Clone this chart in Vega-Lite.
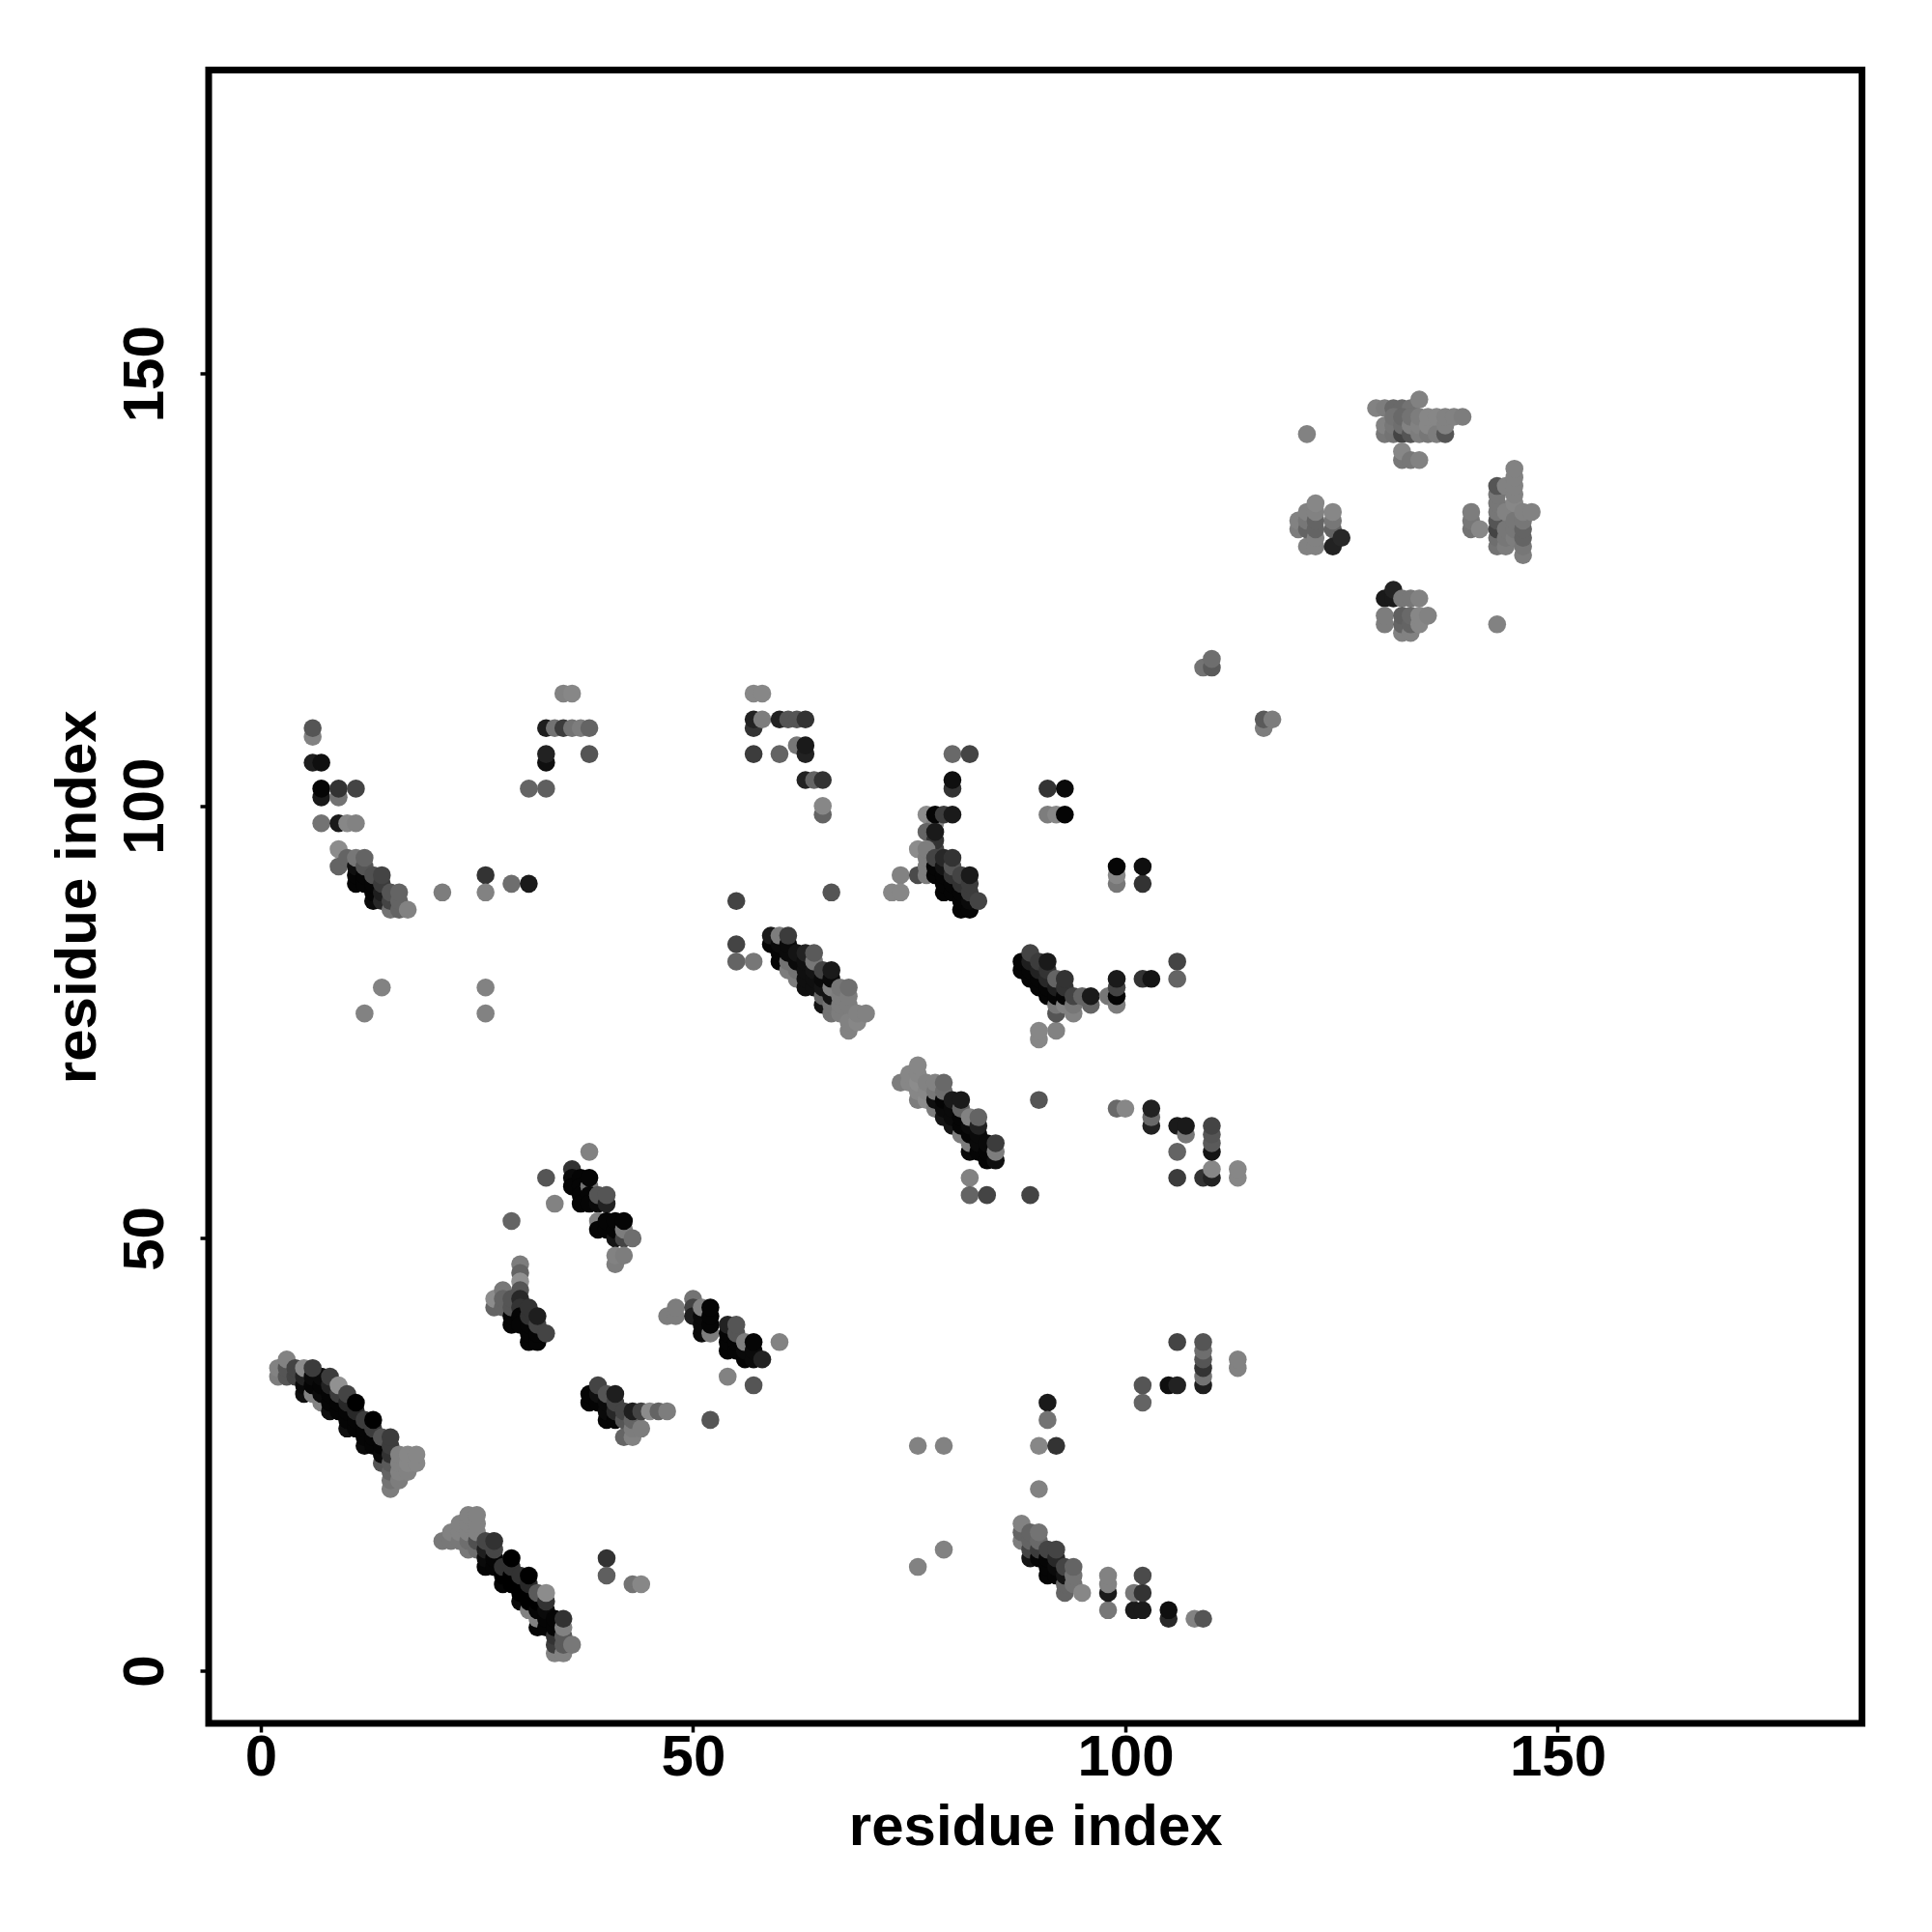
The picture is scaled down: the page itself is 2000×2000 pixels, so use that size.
{"$schema":"https://vega.github.io/schema/vega-lite/v6.json","autosize":{"type":"none"},"padding":{"left":216,"top":72.5,"right":72,"bottom":216},"width":1711.5,"height":1711.5,"background":"white","view":{"stroke":"#000000","strokeWidth":7},
"data":{"values":[
{"x":2,"y":34,"g":125},{"x":2,"y":35,"g":130},{"x":3,"y":34,"g":85},{"x":3,"y":35,"g":85},{"x":3,"y":36,"g":130},{"x":4,"y":34,"g":68},{"x":4,"y":35,"g":68},{"x":5,"y":32,"g":15},{"x":5,"y":33,"g":10},{"x":5,"y":34,"g":34},{"x":5,"y":35,"g":140},{"x":6,"y":32,"g":130},{"x":6,"y":33,"g":5},{"x":6,"y":34,"g":10},{"x":7,"y":31,"g":130},{"x":7,"y":32,"g":10},{"x":7,"y":33,"g":5},{"x":7,"y":34,"g":10},{"x":6,"y":35,"g":60},{"x":8,"y":30,"g":15},{"x":8,"y":31,"g":5},{"x":8,"y":32,"g":5},{"x":8,"y":33,"g":34},{"x":8,"y":34,"g":60},{"x":9,"y":30,"g":5},{"x":9,"y":31,"g":5},{"x":9,"y":32,"g":60},{"x":9,"y":33,"g":145},{"x":10,"y":28,"g":15},{"x":10,"y":29,"g":5},{"x":10,"y":30,"g":5},{"x":10,"y":31,"g":40},{"x":10,"y":32,"g":68},{"x":11,"y":28,"g":5},{"x":11,"y":29,"g":5},{"x":11,"y":30,"g":40},{"x":11,"y":31,"g":0},{"x":12,"y":26,"g":10},{"x":12,"y":27,"g":5},{"x":12,"y":28,"g":5},{"x":12,"y":29,"g":60},{"x":13,"y":26,"g":5},{"x":13,"y":27,"g":5},{"x":13,"y":28,"g":60},{"x":13,"y":29,"g":0},{"x":14,"y":24,"g":85},{"x":14,"y":25,"g":10},{"x":14,"y":26,"g":5},{"x":14,"y":27,"g":85},{"x":15,"y":21,"g":125},{"x":15,"y":22,"g":115},{"x":15,"y":23,"g":100},{"x":15,"y":24,"g":90},{"x":15,"y":25,"g":50},{"x":15,"y":26,"g":60},{"x":15,"y":27,"g":60},{"x":16,"y":22,"g":125},{"x":16,"y":23,"g":130},{"x":16,"y":24,"g":130},{"x":16,"y":25,"g":130},{"x":17,"y":23,"g":130},{"x":17,"y":24,"g":135},{"x":17,"y":25,"g":135},{"x":18,"y":24,"g":135},{"x":18,"y":25,"g":135},
{"x":21,"y":15,"g":120},{"x":22,"y":15,"g":120},{"x":22,"y":16,"g":130},{"x":23,"y":15,"g":120},{"x":23,"y":16,"g":130},{"x":23,"y":17,"g":130},{"x":24,"y":14,"g":120},{"x":24,"y":15,"g":110},{"x":24,"y":16,"g":130},{"x":24,"y":17,"g":130},{"x":24,"y":18,"g":130},{"x":25,"y":14,"g":110},{"x":25,"y":15,"g":80},{"x":25,"y":16,"g":130},{"x":25,"y":17,"g":130},{"x":25,"y":18,"g":130},{"x":26,"y":12,"g":5},{"x":26,"y":13,"g":10},{"x":26,"y":14,"g":30},{"x":26,"y":15,"g":70},{"x":27,"y":12,"g":5},{"x":27,"y":13,"g":5},{"x":27,"y":14,"g":70},{"x":27,"y":15,"g":50},{"x":28,"y":10,"g":5},{"x":28,"y":11,"g":0},{"x":28,"y":12,"g":50},{"x":29,"y":10,"g":0},{"x":29,"y":11,"g":0},{"x":29,"y":12,"g":50},{"x":29,"y":13,"g":0},{"x":30,"y":8,"g":10},{"x":30,"y":9,"g":0},{"x":30,"y":10,"g":0},{"x":30,"y":11,"g":50},{"x":31,"y":7,"g":130},{"x":31,"y":8,"g":0},{"x":31,"y":9,"g":0},{"x":31,"y":10,"g":40},{"x":31,"y":11,"g":0},{"x":32,"y":5,"g":5},{"x":32,"y":6,"g":130},{"x":32,"y":7,"g":5},{"x":32,"y":8,"g":0},{"x":32,"y":9,"g":90},{"x":33,"y":5,"g":5},{"x":33,"y":6,"g":5},{"x":33,"y":7,"g":10},{"x":33,"y":8,"g":50},{"x":33,"y":9,"g":140},{"x":34,"y":2,"g":130},{"x":34,"y":3,"g":60},{"x":34,"y":4,"g":50},{"x":34,"y":5,"g":5},{"x":34,"y":6,"g":5},{"x":35,"y":2,"g":130},{"x":35,"y":3,"g":90},{"x":35,"y":4,"g":90},{"x":35,"y":5,"g":130},{"x":35,"y":6,"g":50},{"x":36,"y":3,"g":120},
{"x":40,"y":13,"g":51},{"x":40,"y":11,"g":95},{"x":43,"y":10,"g":115},{"x":44,"y":10,"g":135},
{"x":38,"y":60,"g":130},{"x":33,"y":57,"g":85},{"x":34,"y":54,"g":130},{"x":29,"y":52,"g":100},
{"x":36,"y":58,"g":51},{"x":36,"y":57,"g":10},{"x":36,"y":56,"g":5},{"x":37,"y":57,"g":5},{"x":37,"y":56,"g":5},{"x":37,"y":55,"g":5},{"x":37,"y":54,"g":5},{"x":38,"y":56,"g":115},{"x":38,"y":55,"g":5},{"x":38,"y":54,"g":5},{"x":38,"y":57,"g":5},{"x":39,"y":54,"g":10},{"x":39,"y":55,"g":85},{"x":40,"y":54,"g":34},{"x":40,"y":55,"g":85},{"x":39,"y":52,"g":130},{"x":39,"y":51,"g":5},{"x":40,"y":51,"g":5},{"x":40,"y":52,"g":5},{"x":41,"y":50,"g":20},{"x":41,"y":51,"g":5},{"x":41,"y":52,"g":5},{"x":42,"y":50,"g":68},{"x":42,"y":51,"g":125},{"x":42,"y":52,"g":5},{"x":43,"y":50,"g":110},{"x":41,"y":47,"g":125},{"x":41,"y":48,"g":130},{"x":42,"y":48,"g":125},
{"x":27,"y":42,"g":100},{"x":27,"y":43,"g":140},{"x":28,"y":44,"g":120},{"x":28,"y":42,"g":100},{"x":28,"y":43,"g":100},{"x":29,"y":40,"g":5},{"x":29,"y":41,"g":5},{"x":29,"y":42,"g":85},{"x":29,"y":43,"g":85},{"x":30,"y":47,"g":125},{"x":30,"y":46,"g":100},{"x":30,"y":45,"g":145},{"x":30,"y":44,"g":85},{"x":30,"y":43,"g":40},{"x":30,"y":42,"g":51},{"x":30,"y":41,"g":5},{"x":30,"y":40,"g":5},{"x":31,"y":38,"g":5},{"x":31,"y":39,"g":5},{"x":31,"y":40,"g":5},{"x":31,"y":41,"g":51},{"x":31,"y":42,"g":51},{"x":32,"y":38,"g":5},{"x":32,"y":39,"g":5},{"x":32,"y":40,"g":68},{"x":32,"y":41,"g":30},{"x":33,"y":39,"g":68},
{"x":47,"y":41,"g":125},{"x":48,"y":41,"g":125},{"x":48,"y":42,"g":125},{"x":50,"y":43,"g":115},{"x":50,"y":42,"g":68},{"x":50,"y":41,"g":30},{"x":51,"y":39,"g":10},{"x":51,"y":40,"g":10},{"x":51,"y":41,"g":10},{"x":51,"y":42,"g":130},{"x":52,"y":39,"g":125},{"x":52,"y":40,"g":5},{"x":52,"y":41,"g":5},{"x":52,"y":42,"g":5},{"x":54,"y":37,"g":5},{"x":54,"y":38,"g":5},{"x":54,"y":39,"g":5},{"x":54,"y":40,"g":34},{"x":55,"y":37,"g":5},{"x":55,"y":38,"g":5},{"x":55,"y":39,"g":85},{"x":55,"y":40,"g":85},{"x":56,"y":36,"g":5},{"x":56,"y":37,"g":10},{"x":56,"y":38,"g":125},{"x":57,"y":36,"g":10},{"x":57,"y":37,"g":10},{"x":57,"y":38,"g":5},{"x":58,"y":36,"g":34},{"x":60,"y":38,"g":130},{"x":54,"y":34,"g":130},{"x":57,"y":33,"g":85},{"x":52,"y":29,"g":85},
{"x":38,"y":31,"g":5},{"x":38,"y":32,"g":5},{"x":39,"y":31,"g":5},{"x":39,"y":32,"g":15},{"x":39,"y":33,"g":68},{"x":40,"y":29,"g":5},{"x":40,"y":30,"g":10},{"x":40,"y":31,"g":10},{"x":40,"y":32,"g":85},{"x":41,"y":29,"g":5},{"x":41,"y":30,"g":40},{"x":41,"y":31,"g":68},{"x":41,"y":32,"g":30},{"x":42,"y":27,"g":100},{"x":42,"y":29,"g":85},{"x":42,"y":30,"g":68},{"x":43,"y":27,"g":130},{"x":43,"y":28,"g":125},{"x":43,"y":29,"g":100},{"x":43,"y":30,"g":30},{"x":44,"y":28,"g":125},{"x":44,"y":30,"g":68},{"x":45,"y":30,"g":140},{"x":46,"y":30,"g":100},{"x":47,"y":30,"g":125},
{"x":6,"y":108,"g":130},{"x":6,"y":109,"g":85},{"x":6,"y":105,"g":30},{"x":7,"y":105,"g":15},{"x":7,"y":101,"g":25},{"x":7,"y":102,"g":5},{"x":9,"y":101,"g":115},{"x":9,"y":102,"g":51},{"x":11,"y":102,"g":68},{"x":7,"y":98,"g":115},{"x":9,"y":98,"g":26},{"x":10,"y":98,"g":135},{"x":11,"y":98,"g":130},{"x":9,"y":95,"g":140},{"x":9,"y":93,"g":100},{"x":10,"y":94,"g":100},{"x":11,"y":91,"g":5},{"x":11,"y":92,"g":5},{"x":11,"y":93,"g":15},{"x":11,"y":94,"g":119},{"x":12,"y":91,"g":5},{"x":12,"y":92,"g":5},{"x":12,"y":93,"g":85},{"x":12,"y":94,"g":100},{"x":13,"y":89,"g":10},{"x":13,"y":90,"g":5},{"x":13,"y":91,"g":5},{"x":13,"y":92,"g":80},{"x":14,"y":89,"g":40},{"x":14,"y":90,"g":30},{"x":14,"y":91,"g":60},{"x":14,"y":92,"g":68},{"x":15,"y":88,"g":115},{"x":15,"y":89,"g":68},{"x":15,"y":90,"g":85},{"x":16,"y":88,"g":100},{"x":16,"y":89,"g":100},{"x":16,"y":90,"g":100},{"x":17,"y":88,"g":130},{"x":21,"y":90,"g":125},{"x":26,"y":92,"g":51},{"x":26,"y":90,"g":130},{"x":29,"y":91,"g":110},{"x":31,"y":91,"g":26},{"x":14,"y":79,"g":130},{"x":12,"y":76,"g":130},{"x":26,"y":79,"g":130},{"x":26,"y":76,"g":130},
{"x":33,"y":109,"g":30},{"x":34,"y":109,"g":115},{"x":35,"y":109,"g":60},{"x":36,"y":109,"g":115},{"x":37,"y":109,"g":125},{"x":38,"y":109,"g":100},{"x":33,"y":105,"g":15},{"x":33,"y":106,"g":34},{"x":38,"y":106,"g":85},{"x":31,"y":102,"g":100},{"x":33,"y":102,"g":95},{"x":35,"y":113,"g":130},{"x":36,"y":113,"g":135},
{"x":57,"y":113,"g":135},{"x":58,"y":113,"g":135},{"x":57,"y":109,"g":51},{"x":57,"y":110,"g":34},{"x":58,"y":110,"g":125},{"x":60,"y":110,"g":34},{"x":61,"y":110,"g":85},{"x":62,"y":110,"g":85},{"x":63,"y":110,"g":51},{"x":57,"y":106,"g":60},{"x":60,"y":106,"g":100},{"x":62,"y":107,"g":119},{"x":63,"y":106,"g":34},{"x":63,"y":107,"g":26},{"x":63,"y":103,"g":34},{"x":64,"y":103,"g":100},{"x":65,"y":103,"g":51},{"x":65,"y":99,"g":100},{"x":65,"y":100,"g":135},{"x":66,"y":90,"g":85},{"x":55,"y":89,"g":68},{"x":55,"y":84,"g":68},{"x":55,"y":82,"g":100},{"x":57,"y":82,"g":119},
{"x":59,"y":84,"g":5},{"x":59,"y":85,"g":26},{"x":60,"y":82,"g":5},{"x":60,"y":83,"g":5},{"x":60,"y":84,"g":10},{"x":60,"y":85,"g":125},{"x":61,"y":81,"g":125},{"x":61,"y":82,"g":115},{"x":61,"y":83,"g":10},{"x":61,"y":84,"g":10},{"x":61,"y":85,"g":60},{"x":62,"y":80,"g":125},{"x":62,"y":81,"g":115},{"x":62,"y":82,"g":10},{"x":62,"y":83,"g":20},{"x":63,"y":79,"g":15},{"x":63,"y":80,"g":15},{"x":63,"y":81,"g":15},{"x":63,"y":82,"g":15},{"x":63,"y":83,"g":34},{"x":64,"y":79,"g":15},{"x":64,"y":80,"g":15},{"x":64,"y":81,"g":20},{"x":64,"y":82,"g":119},{"x":64,"y":83,"g":90},{"x":65,"y":77,"g":20},{"x":65,"y":78,"g":100},{"x":65,"y":79,"g":20},{"x":65,"y":80,"g":10},{"x":65,"y":81,"g":68},{"x":66,"y":76,"g":115},{"x":66,"y":77,"g":115},{"x":66,"y":78,"g":20},{"x":66,"y":79,"g":130},{"x":66,"y":80,"g":10},{"x":66,"y":81,"g":26},{"x":67,"y":76,"g":125},{"x":67,"y":77,"g":125},{"x":67,"y":78,"g":125},{"x":67,"y":79,"g":119},{"x":68,"y":74,"g":130},{"x":68,"y":75,"g":130},{"x":68,"y":77,"g":125},{"x":68,"y":78,"g":125},{"x":68,"y":79,"g":110},{"x":69,"y":75,"g":135},{"x":69,"y":76,"g":130},{"x":70,"y":76,"g":130},
{"x":80,"y":106,"g":105},{"x":82,"y":106,"g":68},{"x":80,"y":102,"g":51},{"x":80,"y":103,"g":15},{"x":77,"y":99,"g":140},{"x":78,"y":98,"g":130},{"x":78,"y":99,"g":5},{"x":79,"y":99,"g":60},{"x":80,"y":99,"g":26},{"x":77,"y":97,"g":100},{"x":78,"y":95,"g":68},{"x":78,"y":96,"g":51},{"x":78,"y":97,"g":26},{"x":74,"y":92,"g":130},{"x":73,"y":90,"g":135},{"x":74,"y":90,"g":135},{"x":76,"y":95,"g":140},{"x":76,"y":92,"g":75},{"x":77,"y":92,"g":125},{"x":77,"y":93,"g":125},{"x":77,"y":94,"g":125},{"x":77,"y":95,"g":125},{"x":78,"y":92,"g":5},{"x":78,"y":93,"g":5},{"x":78,"y":94,"g":68},{"x":79,"y":90,"g":5},{"x":79,"y":91,"g":5},{"x":79,"y":92,"g":5},{"x":79,"y":93,"g":20},{"x":79,"y":94,"g":40},{"x":80,"y":90,"g":5},{"x":80,"y":91,"g":5},{"x":80,"y":92,"g":51},{"x":80,"y":93,"g":85},{"x":80,"y":94,"g":51},{"x":81,"y":88,"g":5},{"x":81,"y":89,"g":5},{"x":81,"y":90,"g":5},{"x":81,"y":91,"g":51},{"x":81,"y":92,"g":68},{"x":82,"y":88,"g":5},{"x":82,"y":89,"g":10},{"x":82,"y":90,"g":60},{"x":82,"y":91,"g":60},{"x":82,"y":92,"g":26},{"x":83,"y":89,"g":68},
{"x":91,"y":102,"g":51},{"x":93,"y":102,"g":10},{"x":91,"y":99,"g":125},{"x":92,"y":99,"g":135},{"x":93,"y":99,"g":5},{"x":99,"y":91,"g":119},{"x":99,"y":92,"g":135},{"x":99,"y":93,"g":5},{"x":102,"y":91,"g":51},{"x":102,"y":93,"g":15},
{"x":88,"y":81,"g":5},{"x":88,"y":82,"g":5},{"x":89,"y":80,"g":5},{"x":89,"y":81,"g":5},{"x":89,"y":82,"g":30},{"x":89,"y":83,"g":68},{"x":90,"y":79,"g":5},{"x":90,"y":80,"g":5},{"x":90,"y":81,"g":34},{"x":90,"y":82,"g":60},{"x":91,"y":78,"g":5},{"x":91,"y":79,"g":5},{"x":91,"y":80,"g":40},{"x":91,"y":81,"g":51},{"x":91,"y":82,"g":26},{"x":92,"y":74,"g":130},{"x":92,"y":76,"g":85},{"x":92,"y":77,"g":119},{"x":92,"y":78,"g":5},{"x":92,"y":79,"g":30},{"x":92,"y":80,"g":100},{"x":93,"y":77,"g":130},{"x":93,"y":78,"g":5},{"x":93,"y":79,"g":51},{"x":93,"y":80,"g":51},{"x":94,"y":76,"g":130},{"x":94,"y":77,"g":119},{"x":94,"y":78,"g":68},{"x":95,"y":78,"g":100},{"x":96,"y":77,"g":100},{"x":96,"y":78,"g":26},{"x":90,"y":73,"g":135},{"x":90,"y":74,"g":135},
{"x":98,"y":78,"g":119},{"x":99,"y":77,"g":125},{"x":99,"y":78,"g":5},{"x":99,"y":79,"g":68},{"x":99,"y":80,"g":26},{"x":102,"y":80,"g":51},{"x":103,"y":80,"g":20},{"x":106,"y":82,"g":68},{"x":106,"y":80,"g":100},
{"x":74,"y":68,"g":125},{"x":75,"y":68,"g":135},{"x":75,"y":69,"g":135},{"x":76,"y":66,"g":125},{"x":76,"y":67,"g":135},{"x":76,"y":68,"g":140},{"x":76,"y":69,"g":135},{"x":76,"y":70,"g":135},{"x":77,"y":66,"g":140},{"x":77,"y":67,"g":135},{"x":77,"y":68,"g":130},{"x":78,"y":65,"g":125},{"x":78,"y":66,"g":15},{"x":78,"y":67,"g":120},{"x":78,"y":68,"g":130},{"x":79,"y":64,"g":20},{"x":79,"y":65,"g":10},{"x":79,"y":66,"g":5},{"x":79,"y":67,"g":110},{"x":79,"y":68,"g":105},{"x":80,"y":63,"g":20},{"x":80,"y":64,"g":10},{"x":80,"y":65,"g":10},{"x":80,"y":66,"g":26},{"x":81,"y":62,"g":125},{"x":81,"y":63,"g":5},{"x":81,"y":64,"g":5},{"x":81,"y":65,"g":100},{"x":81,"y":66,"g":26},{"x":82,"y":60,"g":10},{"x":82,"y":61,"g":125},{"x":82,"y":62,"g":5},{"x":82,"y":63,"g":10},{"x":82,"y":64,"g":130},{"x":83,"y":60,"g":5},{"x":83,"y":61,"g":10},{"x":83,"y":62,"g":10},{"x":83,"y":63,"g":34},{"x":83,"y":64,"g":100},{"x":84,"y":59,"g":5},{"x":84,"y":60,"g":5},{"x":84,"y":61,"g":10},{"x":85,"y":59,"g":15},{"x":85,"y":60,"g":125},{"x":85,"y":61,"g":60},
{"x":82,"y":57,"g":130},{"x":82,"y":55,"g":100},{"x":84,"y":55,"g":68},{"x":89,"y":55,"g":68},{"x":90,"y":66,"g":85},
{"x":99,"y":65,"g":105},{"x":100,"y":65,"g":135},{"x":103,"y":63,"g":34},{"x":103,"y":64,"g":105},{"x":103,"y":65,"g":34},{"x":106,"y":63,"g":26},{"x":107,"y":62,"g":119},{"x":107,"y":63,"g":26},{"x":106,"y":60,"g":100},{"x":106,"y":57,"g":60},{"x":109,"y":57,"g":51},{"x":110,"y":57,"g":34},{"x":110,"y":58,"g":135},{"x":110,"y":60,"g":20},{"x":110,"y":61,"g":90},{"x":110,"y":62,"g":85},{"x":110,"y":63,"g":68},{"x":113,"y":57,"g":135},{"x":113,"y":58,"g":135},
{"x":109,"y":116,"g":115},{"x":110,"y":116,"g":90},{"x":110,"y":117,"g":110},{"x":116,"y":109,"g":125},{"x":116,"y":110,"g":90},{"x":117,"y":110,"g":125},
{"x":121,"y":143,"g":130},{"x":129,"y":146,"g":130},{"x":130,"y":146,"g":125},{"x":131,"y":146,"g":105},{"x":132,"y":146,"g":105},{"x":133,"y":146,"g":115},{"x":130,"y":143,"g":119},{"x":130,"y":144,"g":130},{"x":131,"y":143,"g":115},{"x":131,"y":144,"g":119},{"x":131,"y":145,"g":115},{"x":132,"y":143,"g":68},{"x":132,"y":144,"g":110},{"x":132,"y":145,"g":105},{"x":133,"y":143,"g":85},{"x":133,"y":144,"g":130},{"x":133,"y":145,"g":115},{"x":134,"y":147,"g":130},{"x":134,"y":143,"g":125},{"x":134,"y":144,"g":130},{"x":134,"y":145,"g":125},{"x":135,"y":143,"g":119},{"x":135,"y":144,"g":135},{"x":135,"y":145,"g":135},{"x":136,"y":143,"g":125},{"x":136,"y":145,"g":135},{"x":137,"y":143,"g":85},{"x":137,"y":144,"g":130},{"x":137,"y":145,"g":130},{"x":138,"y":145,"g":130},{"x":139,"y":145,"g":125},{"x":132,"y":140,"g":119},{"x":132,"y":141,"g":135},{"x":133,"y":140,"g":119},{"x":134,"y":140,"g":130},
{"x":120,"y":132,"g":125},{"x":120,"y":133,"g":130},{"x":121,"y":130,"g":130},{"x":121,"y":132,"g":100},{"x":121,"y":133,"g":119},{"x":121,"y":134,"g":130},{"x":122,"y":130,"g":130},{"x":122,"y":131,"g":130},{"x":122,"y":132,"g":100},{"x":122,"y":133,"g":100},{"x":122,"y":134,"g":130},{"x":122,"y":135,"g":135},{"x":124,"y":132,"g":100},{"x":124,"y":133,"g":119},{"x":124,"y":134,"g":135},{"x":124,"y":130,"g":34},{"x":125,"y":131,"g":40},
{"x":130,"y":124,"g":26},{"x":131,"y":124,"g":26},{"x":131,"y":125,"g":34},{"x":132,"y":124,"g":119},{"x":133,"y":124,"g":119},{"x":134,"y":124,"g":130},{"x":130,"y":121,"g":125},{"x":130,"y":122,"g":125},{"x":132,"y":120,"g":130},{"x":132,"y":121,"g":100},{"x":132,"y":122,"g":95},{"x":133,"y":120,"g":130},{"x":133,"y":121,"g":100},{"x":133,"y":122,"g":105},{"x":134,"y":121,"g":135},{"x":134,"y":122,"g":135},{"x":135,"y":122,"g":130},
{"x":140,"y":132,"g":115},{"x":140,"y":133,"g":119},{"x":140,"y":134,"g":125},{"x":141,"y":132,"g":135},{"x":143,"y":121,"g":130},{"x":143,"y":130,"g":115},{"x":143,"y":131,"g":110},{"x":143,"y":132,"g":68},{"x":143,"y":133,"g":85},{"x":143,"y":134,"g":119},{"x":143,"y":135,"g":119},{"x":143,"y":136,"g":119},{"x":143,"y":137,"g":85},{"x":144,"y":130,"g":125},{"x":144,"y":131,"g":119},{"x":144,"y":132,"g":119},{"x":144,"y":134,"g":130},{"x":144,"y":137,"g":130},{"x":145,"y":131,"g":125},{"x":145,"y":132,"g":119},{"x":145,"y":133,"g":119},{"x":145,"y":135,"g":135},{"x":145,"y":136,"g":130},{"x":145,"y":137,"g":130},{"x":145,"y":138,"g":130},{"x":145,"y":139,"g":130},{"x":146,"y":129,"g":125},{"x":146,"y":130,"g":119},{"x":146,"y":131,"g":100},{"x":146,"y":132,"g":100},{"x":146,"y":133,"g":119},{"x":146,"y":134,"g":130},{"x":147,"y":134,"g":130},
{"x":91,"y":31,"g":26},{"x":91,"y":29,"g":115},{"x":90,"y":26,"g":135},{"x":92,"y":26,"g":51},{"x":90,"y":21,"g":130},
{"x":102,"y":33,"g":85},{"x":102,"y":31,"g":100},{"x":105,"y":33,"g":15},{"x":106,"y":33,"g":34},{"x":106,"y":38,"g":68},{"x":109,"y":33,"g":30},{"x":109,"y":34,"g":115},{"x":109,"y":35,"g":51},{"x":109,"y":36,"g":85},{"x":109,"y":37,"g":110},{"x":109,"y":38,"g":85},{"x":113,"y":35,"g":130},{"x":113,"y":36,"g":130},
{"x":88,"y":15,"g":125},{"x":88,"y":16,"g":100},{"x":88,"y":17,"g":130},{"x":89,"y":13,"g":20},{"x":89,"y":14,"g":68},{"x":89,"y":15,"g":100},{"x":89,"y":16,"g":100},{"x":90,"y":13,"g":5},{"x":90,"y":14,"g":60},{"x":90,"y":15,"g":105},{"x":90,"y":16,"g":115},{"x":91,"y":11,"g":5},{"x":91,"y":12,"g":5},{"x":91,"y":13,"g":5},{"x":91,"y":14,"g":68},{"x":92,"y":11,"g":5},{"x":92,"y":12,"g":10},{"x":92,"y":13,"g":40},{"x":92,"y":14,"g":68},{"x":93,"y":9,"g":100},{"x":93,"y":10,"g":100},{"x":93,"y":11,"g":20},{"x":93,"y":12,"g":68},{"x":94,"y":10,"g":115},{"x":94,"y":11,"g":115},{"x":94,"y":12,"g":100},{"x":95,"y":9,"g":135},
{"x":98,"y":7,"g":119},{"x":98,"y":9,"g":26},{"x":98,"y":10,"g":130},{"x":98,"y":11,"g":130},{"x":101,"y":7,"g":26},{"x":101,"y":9,"g":119},{"x":102,"y":7,"g":26},{"x":102,"y":9,"g":51},{"x":102,"y":11,"g":75},{"x":105,"y":6,"g":40},{"x":105,"y":7,"g":15},{"x":108,"y":6,"g":130},{"x":109,"y":6,"g":85},
{"x":76,"y":26,"g":130},{"x":79,"y":26,"g":130},{"x":76,"y":12,"g":130},{"x":79,"y":14,"g":130}
]},
"mark":{"type":"point","shape":"circle","filled":true,"opacity":1,"size":345},
"encoding":{
"x":{"field":"x","type":"quantitative","scale":{"domain":[-6.03,185.2],"nice":false,"zero":false},"axis":{"values":[0,50,100,150],"grid":false,"domain":false,"title":"residue index","titleFont":"Liberation Sans","titleFontWeight":"bold","titleFontSize":60,"titleColor":"#000000","titlePadding":13,"labelFont":"Liberation Sans","labelFontWeight":"bold","labelFontSize":60,"labelColor":"#000000","labelPadding":-3,"tickColor":"#000000","tickSize":9,"tickWidth":3.5,"labelFlush":false}},
"y":{"field":"y","type":"quantitative","scale":{"domain":[-6.09,185.1],"nice":false,"zero":false},"axis":{"values":[0,50,100,150],"grid":false,"domain":false,"title":"residue index","titleFont":"Liberation Sans","titleFontWeight":"bold","titleFontSize":60,"titleColor":"#000000","titlePadding":9,"labelFont":"Liberation Sans","labelFontWeight":"bold","labelFontSize":60,"labelColor":"#000000","labelAngle":-90,"labelAlign":"center","labelBaseline":"alphabetic","labelPadding":39,"tickColor":"#000000","tickSize":9,"tickWidth":3.5}},
"color":{"field":"g","type":"quantitative","scale":{"domain":[0,255],"range":["#000000","#ffffff"],"interpolate":"rgb"},"legend":null}
}}
